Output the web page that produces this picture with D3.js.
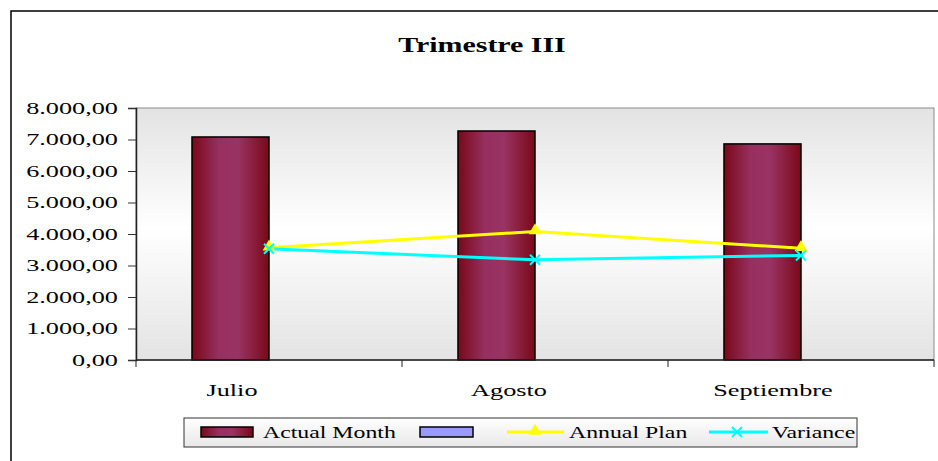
<!DOCTYPE html>
<html>
<head>
<meta charset="utf-8">
<script src="https://cdn.jsdelivr.net/npm/d3@7"></script>
<style>
  html, body { margin: 0; padding: 0; background: #fff; }
  svg { display: block; }
  text { font-family: "Liberation Serif", "Times New Roman", serif; fill: #000; }
</style>
</head>
<body>
<div id="chart"></div>
<script>
// Quarterly data: Trimestre III
const categories = ["Julio", "Agosto", "Septiembre"];
const actualMonth = [7080, 7270, 6860];
const otherSeries = [0, 0, 0];
const annualPlan = [3560, 4080, 3545];
const variance = [3530, 3180, 3320];
const yTicks = [0, 1000, 2000, 3000, 4000, 5000, 6000, 7000, 8000];
const title = "Trimestre III";
const legendLabels = ["Actual Month", "", "Annual Plan", "Variance"];

const W = 938, H = 461;
const plot = { left: 136, right: 934, top: 108, bottom: 360 };
const SX = 1.4; // horizontal stretch of the chart lettering

const svg = d3.select("#chart").append("svg").attr("width", W).attr("height", H);
const defs = svg.append("defs");

// Plot background: grey at edges, white in the middle
const bg = defs.append("linearGradient").attr("id", "plotBg")
  .attr("x1", 0).attr("y1", 0).attr("x2", 0).attr("y2", 1);
bg.append("stop").attr("offset", "0%").attr("stop-color", "#e3e3e3");
bg.append("stop").attr("offset", "48%").attr("stop-color", "#ffffff");
bg.append("stop").attr("offset", "100%").attr("stop-color", "#e3e3e3");

// Cylinder-like bar fill
const barG = defs.append("linearGradient").attr("id", "barFill")
  .attr("x1", 0).attr("y1", 0).attr("x2", 1).attr("y2", 0);
barG.append("stop").attr("offset", "0%").attr("stop-color", "#7a0818");
barG.append("stop").attr("offset", "35%").attr("stop-color", "#973060");
barG.append("stop").attr("offset", "60%").attr("stop-color", "#993363");
barG.append("stop").attr("offset", "100%").attr("stop-color", "#7a0818");

const legBg = defs.append("linearGradient").attr("id", "legBg")
  .attr("x1", 0).attr("y1", 0).attr("x2", 0).attr("y2", 1);
legBg.append("stop").attr("offset", "0%").attr("stop-color", "#ffffff");
legBg.append("stop").attr("offset", "100%").attr("stop-color", "#e8e8e8");

function stretchedText(g, x, y, str, opts = {}) {
  return g.append("text")
    .attr("transform", `translate(${x},${y}) scale(${opts.sx || SX},1)`)
    .attr("text-anchor", opts.anchor || "middle")
    .attr("dominant-baseline", opts.baseline || "auto")
    .style("font-size", (opts.size || 17) + "px")
    .style("font-weight", opts.weight || "normal")
    .text(str);
}

// Chart frame
svg.append("rect").attr("x", 11).attr("y", 11).attr("width", 960).attr("height", 480)
  .attr("fill", "#fff").attr("stroke", "#000").attr("stroke-width", 1.5);

// Title
stretchedText(svg, 482, 52, title, { size: 22, weight: "bold", sx: 1.36 });

// Scales
const x = d3.scaleBand().domain(categories).range([plot.left, plot.right]).padding(0);
const sub = d3.scaleBand().domain(["a", "b"]).range([0, x.bandwidth()]).paddingOuter(0.727).paddingInner(0);
const y = d3.scaleLinear().domain([0, 8000]).range([plot.bottom, plot.top]);

// Plot area
svg.append("rect").attr("x", plot.left).attr("y", plot.top)
  .attr("width", plot.right - plot.left).attr("height", plot.bottom - plot.top)
  .attr("fill", "url(#plotBg)").attr("stroke", "#8a8a8a").attr("stroke-width", 1);

// Bars
svg.append("g").selectAll("rect").data(categories).join("rect")
  .attr("x", d => x(d) + sub("a"))
  .attr("y", (d, i) => y(actualMonth[i]))
  .attr("width", sub.bandwidth())
  .attr("height", (d, i) => y(0) - y(actualMonth[i]))
  .attr("fill", "url(#barFill)")
  .attr("stroke", "#000").attr("stroke-width", 1.5);

svg.append("g").selectAll("rect").data(categories).join("rect")
  .attr("x", d => x(d) + sub("b"))
  .attr("y", (d, i) => y(otherSeries[i]))
  .attr("width", sub.bandwidth())
  .attr("height", (d, i) => y(0) - y(otherSeries[i]))
  .attr("fill", "#9999ff");

// Y axis
const yAxis = svg.append("g").attr("transform", `translate(${plot.left},0)`)
  .call(d3.axisLeft(y).tickValues(yTicks).tickSize(8).tickFormat(() => ""));
yAxis.select(".domain").attr("stroke", "#222").attr("stroke-width", 1.5);
yAxis.selectAll(".tick line").attr("stroke", "#333").attr("stroke-width", 1);
const fmt = v => d3.format(",.2f")(v).replace(/,/g, "#").replace(/\./g, ",").replace(/#/g, ".");
yTicks.forEach(v => stretchedText(svg, 118, y(v), fmt(v), { anchor: "end", baseline: "central", size: 17.5, sx: 1.5 }));

// X axis with ticks at category boundaries
const bounds = categories.map(c => x(c)).concat([plot.right]);
svg.append("line").attr("x1", plot.left).attr("x2", plot.right)
  .attr("y1", plot.bottom).attr("y2", plot.bottom).attr("stroke", "#222").attr("stroke-width", 1.5);
svg.append("g").selectAll("line").data(bounds).join("line")
  .attr("x1", d => d).attr("x2", d => d)
  .attr("y1", plot.bottom).attr("y2", plot.bottom + 7)
  .attr("stroke", "#222").attr("stroke-width", 1);
const labelShift = [-37, -26, -28];
categories.forEach((c, i) => stretchedText(svg, x(c) + x.bandwidth() / 2 + labelShift[i], 396, c, { size: 17.5, sx: 1.5 }));

// Lines
const cx = d => x(d) + x.bandwidth() / 2;
const line = arr => d3.line().x((d, i) => cx(categories[i])).y((d, i) => y(arr[i]))(arr);

svg.append("path").attr("d", line(annualPlan)).attr("fill", "none")
  .attr("stroke", "#ffff00").attr("stroke-width", 3);
svg.append("path").attr("d", line(variance)).attr("fill", "none")
  .attr("stroke", "#00ffff").attr("stroke-width", 3);

const tri = d3.symbol().type(d3.symbolTriangle).size(70);
svg.append("g").selectAll("path").data(annualPlan).join("path")
  .attr("d", tri)
  .attr("transform", (d, i) => `translate(${cx(categories[i])},${y(d) - 1})`)
  .attr("fill", "#ffff00");

function drawX(g, px, py, r) {
  g.append("path")
    .attr("d", `M${px - r},${py - r}L${px + r},${py + r}M${px - r},${py + r}L${px + r},${py - r}`)
    .attr("stroke", "#00ffff").attr("stroke-width", 2).attr("fill", "none");
}
const xMarks = svg.append("g");
variance.forEach((v, i) => drawX(xMarks, cx(categories[i]), y(v), 5));

// Legend
const leg = svg.append("g");
leg.append("rect").attr("x", 184).attr("y", 418).attr("width", 673).attr("height", 29)
  .attr("fill", "url(#legBg)").attr("stroke", "#333").attr("stroke-width", 1);
const ly = 432;
leg.append("rect").attr("x", 201).attr("y", ly - 5).attr("width", 52).attr("height", 10)
  .attr("fill", "url(#barFill)").attr("stroke", "#000").attr("stroke-width", 1.5);
stretchedText(leg, 263, ly, legendLabels[0], { anchor: "start", baseline: "central", size: 17, sx: 1.4 });
leg.append("rect").attr("x", 420).attr("y", ly - 5).attr("width", 53).attr("height", 10)
  .attr("fill", "#9999ff").attr("stroke", "#000").attr("stroke-width", 1.5);
leg.append("line").attr("x1", 507).attr("x2", 564).attr("y1", ly).attr("y2", ly)
  .attr("stroke", "#ffff00").attr("stroke-width", 3);
leg.append("path").attr("d", tri).attr("transform", `translate(535,${ly - 1})`).attr("fill", "#ffff00");
stretchedText(leg, 569, ly, legendLabels[2], { anchor: "start", baseline: "central", size: 17, sx: 1.4 });
leg.append("line").attr("x1", 709).attr("x2", 768).attr("y1", ly).attr("y2", ly)
  .attr("stroke", "#00ffff").attr("stroke-width", 3);
drawX(leg, 737, ly, 5);
stretchedText(leg, 772, ly, legendLabels[3], { anchor: "start", baseline: "central", size: 17, sx: 1.4 });
</script>
</body>
</html>
